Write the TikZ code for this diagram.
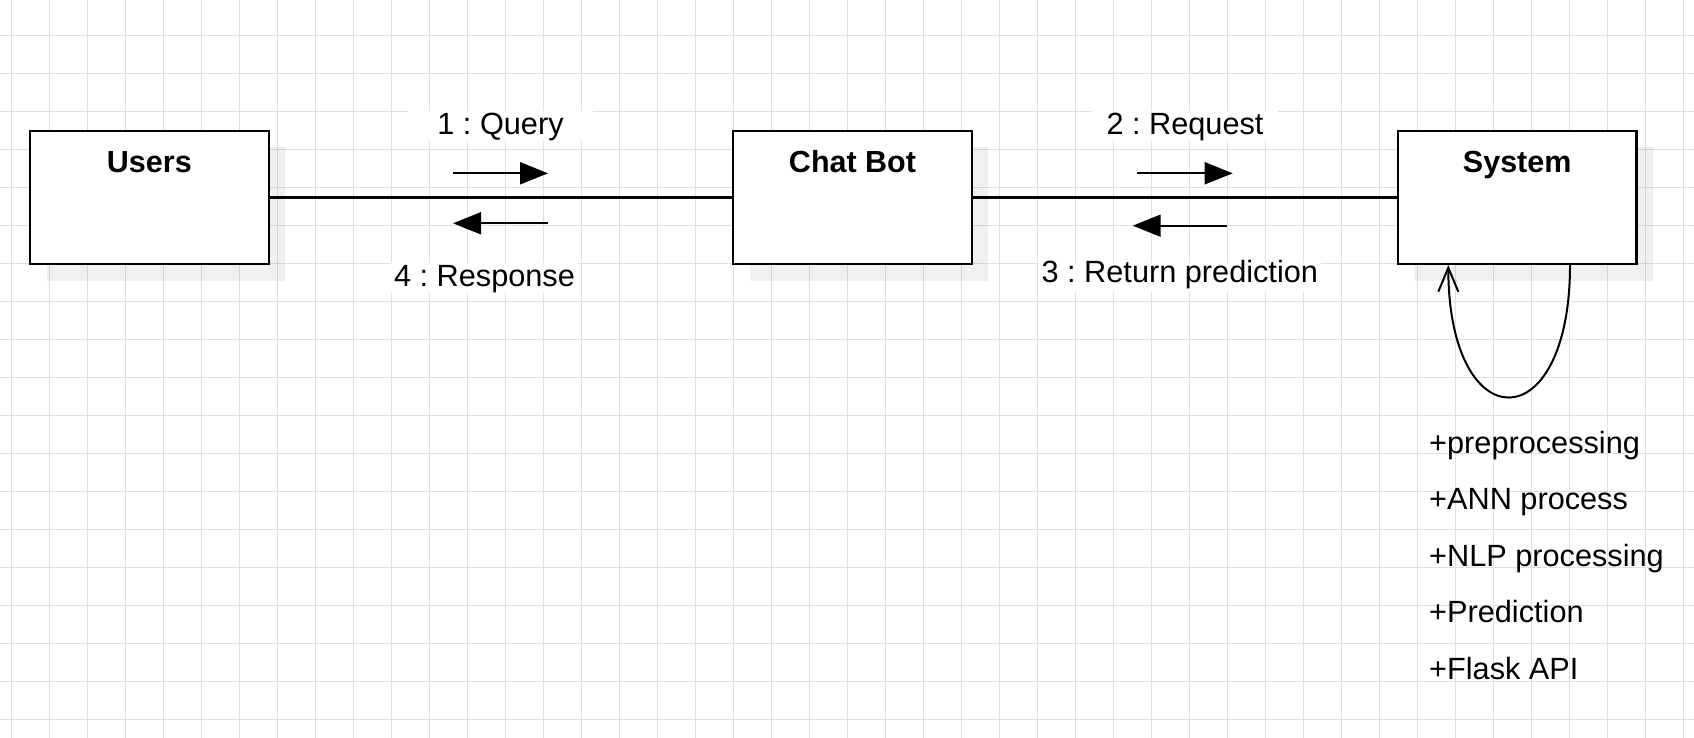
\documentclass[tikz,border=0pt]{standalone}
\usepackage{fontspec}
\setmainfont{Liberation Sans}
\usetikzlibrary{arrows.meta,shadows}
\definecolor{gridc}{HTML}{E0E0E0}
\frenchspacing
\begin{document}
\begin{tikzpicture}[x=1pt,y=-1pt, font=\fontsize{30.7}{36}\selectfont,
  gridline/.style={draw=gridc, line width=1.5pt},
  umlbox/.style={draw=black, fill=white, line width=2.2pt, minimum width=238.5pt, minimum height=133pt, inner sep=0pt,
    drop shadow={shadow xshift=16.5pt, shadow yshift=-16.5pt, fill=black, opacity=0.06}},
  title/.style={font=\fontsize{30.5}{36}\selectfont\bfseries, anchor=base, inner sep=0pt},
  msglabel/.style={fill=white, inner xsep=3pt, inner ysep=0pt, anchor=base, text height=23.5pt, text depth=6.5pt},
  conn/.style={line width=2.3pt},
  msg/.style={line width=2pt, -{Triangle[length=28pt,width=22pt]}},
  selfmsg/.style={line width=2pt, -{Straight Barb[length=24pt,width=20pt]}},
  attr/.style={anchor=base west, inner sep=0pt}
]
\useasboundingbox[fill=white] (0,0) rectangle (1694,738);
% grid
\foreach \i in {0,...,44} {\draw[gridline] (11.7+38*\i,0) -- (11.7+38*\i,738);}
\foreach \j in {0,...,18} {\draw[gridline] (0,35.7+38*\j) -- (1694,35.7+38*\j);}

% boxes
\node[umlbox] (users) at (149.35,197.5) {};
\node[umlbox] (chatbot) at (852.5,197.5) {};
\node[umlbox] (system) at (1517.2,197.5) {};
\node[title] (usersT) at ([yshift=-42.5pt]users.north) {Users};
\node[title] (chatbotT) at ([yshift=-42.5pt]chatbot.north) {Chat Bot};
\node[title] (systemT) at ([yshift=-42.5pt]system.north) {System};

% connectors
\draw[conn] (users.east) -- (chatbot.west);
\draw[conn] (chatbot.east) -- (system.west);

% messages
\coordinate (q1) at (453,173.3); \coordinate (q2) at (548,173.3);
\coordinate (r1) at (548,223.3); \coordinate (r2) at (453,223.3);
\coordinate (s1) at (1137.3,173.3); \coordinate (s2) at (1232.7,173.3);
\coordinate (t1) at (1227.3,225.7); \coordinate (t2) at (1132.7,225.7);
\draw[msg] (q1) -- (q2);
\draw[msg] (r1) -- (r2);
\draw[msg] (s1) -- (s2);
\draw[msg] (t1) -- (t2);

\node[msglabel, minimum width=185pt] (lq) at (500.5,135) {1 : Query};
\node[msglabel, minimum width=186pt] (lreq) at (1185,135) {2 : Request};
\node[msglabel] (lresp) at (484.5,286.7) {4 : Response};
\node[msglabel, text height=19.5pt, text depth=9pt] (lret) at (1179.8,282.7) {3 : Return prediction};

% self loop
\draw[selfmsg] ([xshift=52.8pt]system.south) .. controls +(0,176) and +(0,176) .. ([xshift=-68.9pt]system.south);

% attributes
\node[attr] (a1) at (1429,453.3) {+preprocessing};
\node[attr] (a2) at (1429,509.7) {+ANN process};
\node[attr] (a3) at (1429,566) {+NLP processing};
\node[attr] (a4) at (1429,622.3) {+Prediction};
\node[attr] (a5) at (1429,679) {+Flask API};
\end{tikzpicture}
\end{document}
